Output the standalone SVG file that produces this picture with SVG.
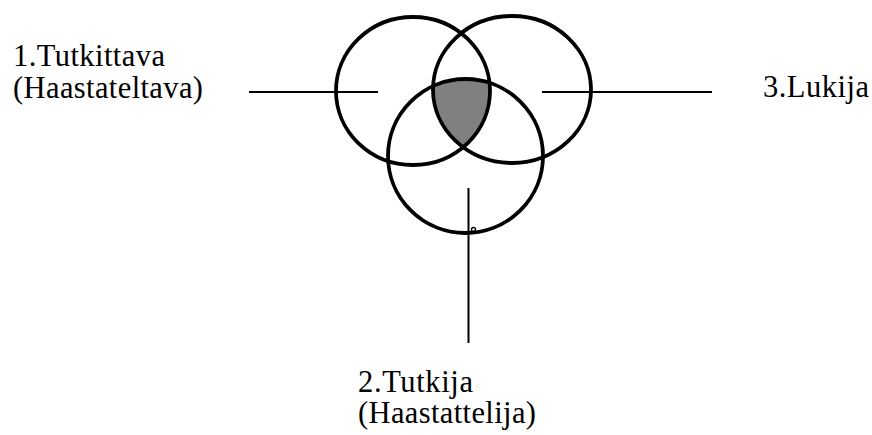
<svg xmlns="http://www.w3.org/2000/svg" width="872" height="435" viewBox="0 0 872 435">
<style>
.ring{fill:none;stroke:#000;stroke-width:3.8}
.conn{stroke:#000;stroke-width:2;fill:none}
.lbl{font-family:'Liberation Serif','Times New Roman',serif;font-size:30.5px;fill:#000}
</style>
<defs>
<clipPath id="cR"><ellipse cx="512" cy="89.5" rx="79" ry="73.5"/></clipPath>
<clipPath id="cB"><ellipse cx="465.5" cy="156" rx="77.5" ry="77"/></clipPath>
</defs>
<g id="overlap">
<g clip-path="url(#cR)"><ellipse cx="413" cy="91" rx="77" ry="74" fill="#808080" clip-path="url(#cB)"/></g>
</g>
<g id="circle-tutkittava"><ellipse class="ring" cx="413" cy="91" rx="77" ry="74"/></g>
<g id="circle-lukija"><ellipse class="ring" cx="512" cy="89.5" rx="79" ry="73.5"/></g>
<g id="circle-tutkija"><ellipse class="ring" cx="465.5" cy="156" rx="77.5" ry="77"/><circle cx="473.5" cy="229.5" r="2" fill="none" stroke="#000" stroke-width="1.3"/></g>
<g id="connectors">
<line class="conn" x1="249" y1="92" x2="378" y2="92"/>
<line class="conn" x1="542" y1="92" x2="712" y2="92"/>
<line class="conn" x1="468.5" y1="188" x2="468.5" y2="343"/>
</g>
<g id="label-tutkittava"><text class="lbl" x="13" y="66" textLength="152" lengthAdjust="spacing">1.Tutkittava</text><text class="lbl" x="13" y="98" textLength="190" lengthAdjust="spacing">(Haastateltava)</text></g>
<g id="label-lukija"><text class="lbl" x="763" y="97" textLength="106" lengthAdjust="spacing">3.Lukija</text></g>
<g id="label-tutkija"><text class="lbl" x="358" y="392" textLength="115" lengthAdjust="spacing">2.Tutkija</text><text class="lbl" x="358" y="423" textLength="178" lengthAdjust="spacing">(Haastattelija)</text></g>
</svg>
